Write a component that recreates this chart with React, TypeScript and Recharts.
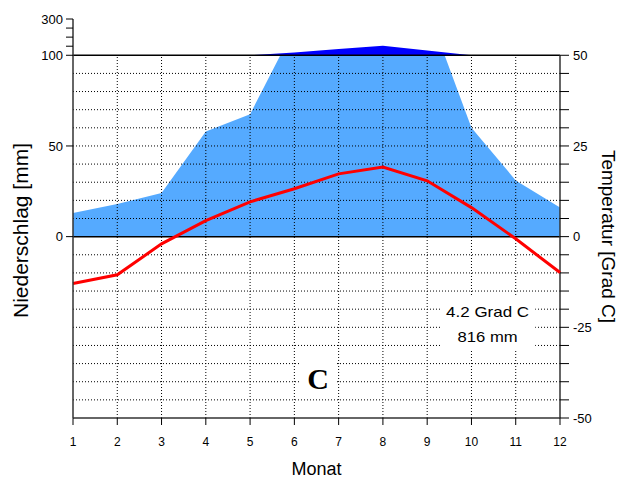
import {
  Area,
  ComposedChart,
  Label,
  Line,
  ReferenceArea,
  ReferenceLine,
  XAxis,
  YAxis,
} from "recharts";

const months = [1, 2, 3, 4, 5, 6, 7, 8, 9, 10, 11, 12];
const precipitation = [13, 18, 24, 58, 67.5, 115, 135, 152, 126, 60, 31, 16];
const temperature = [-12.9, -10.5, -2.0, 4.4, 9.6, 13.2, 17.3, 19.2, 15.4, 8.0, -0.6, -9.9];

const precipTicks = [0, 50, 100, 150, 200, 250, 300];
const precipTickLabels = ["0", "50", "100", "", "", "", "300"];
const tempTicks = [-50, -45, -40, -35, -30, -25, -20, -15, -10, -5, 0, 5, 10, 15, 20, 25, 30, 35, 40, 45, 50];
const tempTickLabels = ["-50", "-25", "0", "25", "50"];
const gridTemps = tempTicks.filter((t) => t !== 0 && Math.abs(t) !== 50);
const gridMonths = [2, 3, 4, 5, 6, 7, 8, 9, 10, 11];

const meanTempText = "4.2 Grad C";
const totalPrecipText = "816 mm";
const stationLetter = "C";

// 2 mm = 1 °C up to 100 mm, 20 mm = 1 °C above
const toScale = (p: number) => (p <= 100 ? p / 2 : 50 + (p - 100) / 20);
const precipTickPositions = precipTicks.map(toScale);

const data = months.map((m, i) => ({
  month: m,
  temp: temperature[i],
  precipLinear: precipitation[i] / 2,
  precipHumid: [50, toScale(Math.max(precipitation[i], 100))],
}));

const font = "'Liberation Sans', Arial, sans-serif";
const axisColor = "#333";
const tickStyle = { fill: "#000", fontSize: 13, fontFamily: font };

const leftTitle = (props: any) => {
  const vb = props.viewBox;
  const x = vb.x + 7;
  const y = vb.y + vb.height / 2 + 12;
  return (
    <text
      x={x}
      y={y}
      transform={`rotate(-90, ${x}, ${y})`}
      textAnchor="middle"
      dominantBaseline="central"
      fontFamily={font}
      fontSize={21}
      fill="#000"
    >
      Niederschlag [mm]
    </text>
  );
};

const rightTitle = (props: any) => {
  const vb = props.viewBox;
  const x = vb.x + 48;
  const y = vb.y + vb.height / 2 + 18;
  return (
    <text
      x={x}
      y={y}
      transform={`rotate(90, ${x}, ${y})`}
      textAnchor="middle"
      dominantBaseline="central"
      fontFamily={font}
      fontSize={19}
      fill="#000"
    >
      Temperatur [Grad C]
    </text>
  );
};

const statsLabel = (props: any) => {
  const vb = props.viewBox;
  const cx = vb.x + vb.width / 2;
  return (
    <g>
      <text x={cx} y={vb.y + 21} textAnchor="middle" fontFamily={font} fontSize={15} fill="#000"
        textLength={83} lengthAdjust="spacingAndGlyphs">
        {meanTempText}
      </text>
      <text x={cx} y={vb.y + 46} textAnchor="middle" fontFamily={font} fontSize={15} fill="#000"
        textLength={60} lengthAdjust="spacingAndGlyphs">
        {totalPrecipText}
      </text>
    </g>
  );
};

const letterLabel = (props: any) => {
  const vb = props.viewBox;
  return (
    <text
      x={vb.x + vb.width / 2}
      y={vb.y + 29}
      textAnchor="middle"
      fontFamily="'Liberation Serif', 'Times New Roman', serif"
      fontWeight="bold"
      fontSize={30}
      fill="#000"
    >
      {stationLetter}
    </text>
  );
};

export default function App() {
  return (
    <div style={{ position: "absolute", left: 0, top: 0, background: "#fff" }}>
      <ComposedChart
        width={621}
        height={484}
        data={data}
        margin={{ top: 19, right: 0, bottom: 0, left: 13 }}
      >
        <XAxis
          dataKey="month"
          type="number"
          domain={[1, 12]}
          ticks={months}
          interval={0}
          height={66}
          tickSize={7}
          tickMargin={12}
          tick={{ ...tickStyle, fontSize: 12 }}
          stroke={axisColor}
          axisLine={{ stroke: axisColor, strokeWidth: 1.5 }}
          tickLine={{ stroke: "#000" }}
        >
          <Label value="Monat" position="insideBottom" offset={9} fill="#000" fontFamily={font} fontSize={18} />
        </XAxis>
        <YAxis
          yAxisId="left"
          orientation="left"
          type="number"
          domain={[-50, 60]}
          allowDataOverflow
          ticks={precipTickPositions}
          interval={0}
          tickFormatter={(v: number) => precipTickLabels[precipTickPositions.indexOf(v)] ?? ""}
          width={60}
          tickSize={7}
          tickMargin={3}
          tick={tickStyle}
          axisLine={{ stroke: axisColor, strokeWidth: 1.5 }}
          tickLine={{ stroke: "#000" }}
        >
          <Label content={leftTitle} />
        </YAxis>
        <YAxis
          yAxisId="right"
          orientation="right"
          type="number"
          domain={[-50, 60]}
          allowDataOverflow
          ticks={tempTicks}
          interval={0}
          tickFormatter={(v: number) => (tempTickLabels.includes(String(v)) ? String(v) : "")}
          width={61}
          tickSize={9}
          tickMargin={4}
          tick={tickStyle}
          axisLine={false}
          tickLine={{ stroke: "#000" }}
        >
          <Label content={rightTitle} />
        </YAxis>

        <Area
          yAxisId="right"
          dataKey="precipLinear"
          type="linear"
          baseValue={0}
          fill="#55aaff"
          fillOpacity={1}
          stroke="none"
          isAnimationActive={false}
          zIndex={100}
        />
        <ReferenceArea
          yAxisId="right"
          x1={1}
          x2={12}
          y1={50}
          y2={60}
          fill="#fff"
          fillOpacity={1}
          stroke="none"
          zIndex={110}
        />
        <Area
          yAxisId="right"
          dataKey="precipHumid"
          type="linear"
          fill="#0000ff"
          fillOpacity={1}
          stroke="none"
          isAnimationActive={false}
          zIndex={120}
        />

        {gridTemps.map((t) => (
          <ReferenceLine
            key={`h${t}`}
            yAxisId="right"
            y={t}
            stroke="#000"
            strokeDasharray="1 2"
            zIndex={130}
          />
        ))}
        {gridMonths.map((m) => (
          <ReferenceLine
            key={`v${m}`}
            yAxisId="right"
            segment={[{ x: m, y: -50 }, { x: m, y: 50 }]}
            stroke="#000"
            strokeDasharray="1 2"
            zIndex={130}
          />
        ))}
        <ReferenceLine yAxisId="right" y={0} stroke="#000" strokeWidth={1.5} zIndex={135} />
        <ReferenceLine yAxisId="right" y={50} stroke="#000" strokeWidth={1.5} zIndex={135} />
        <ReferenceLine
          yAxisId="right"
          segment={[{ x: 12, y: -50 }, { x: 12, y: 50 }]}
          stroke={axisColor}
          strokeWidth={1.5}
          zIndex={135}
        />

        <ReferenceArea
          yAxisId="right"
          x1={9.29}
          x2={11.44}
          y1={-31.3}
          y2={-16.5}
          fill="#fff"
          fillOpacity={1}
          stroke="none"
          zIndex={140}
          label={statsLabel}
        />
        <ReferenceArea
          yAxisId="right"
          x1={6.13}
          x2={6.94}
          y1={-44.5}
          y2={-34.1}
          fill="#fff"
          fillOpacity={1}
          stroke="none"
          zIndex={140}
          label={letterLabel}
        />

        <Line
          yAxisId="right"
          dataKey="temp"
          type="linear"
          stroke="#ff0000"
          strokeWidth={3}
          dot={false}
          isAnimationActive={false}
          zIndex={400}
        />
      </ComposedChart>
    </div>
  );
}
